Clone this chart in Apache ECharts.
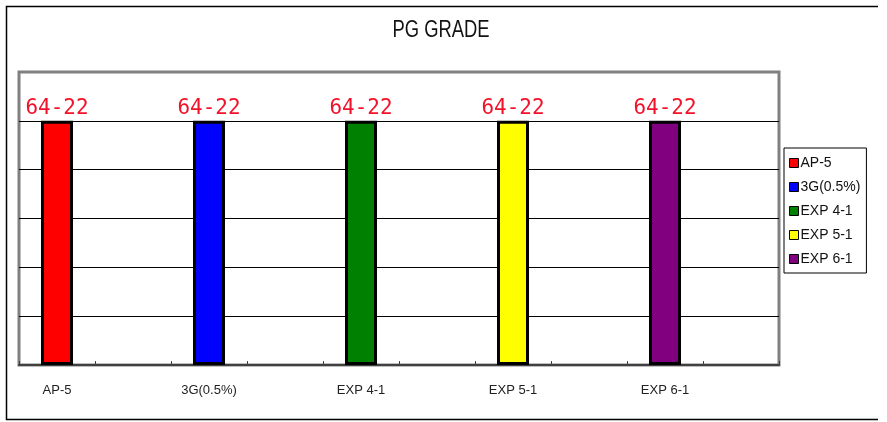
<!DOCTYPE html>
<html>
<head>
<meta charset="utf-8">
<style>html,body{margin:0;padding:0;background:#fff}#c{width:887px;height:422px}</style>
<script src="https://cdn.jsdelivr.net/npm/echarts@6/dist/echarts.min.js"></script>
</head>
<body>
<div id="c"></div>
<script>
const titleText = 'PG GRADE';
const categories = ['AP-5', '', '3G(0.5%)', '', 'EXP 4-1', '', 'EXP 5-1', '', 'EXP 6-1', ''];
const seriesNames = ['AP-5', '3G(0.5%)', 'EXP 4-1', 'EXP 5-1', 'EXP 6-1'];
const seriesColors = ['#ff0000', '#0000ff', '#008000', '#ffff00', '#800080'];
const seriesCategoryIndex = [0, 2, 4, 6, 8];
const seriesValues = [5, 5, 5, 5, 5];
const seriesLabels = ['64-22', '64-22', '64-22', '64-22', '64-22'];

const chart = echarts.init(document.getElementById('c'));
const series = seriesNames.map((name, i) => {
  const data = categories.map(() => '-');
  data[seriesCategoryIndex[i]] = seriesValues[i];
  return {
    name: name,
    type: 'bar',
    stack: 'all',
    barWidth: 32,
    data: data,
    itemStyle: { color: seriesColors[i], borderColor: '#000', borderWidth: 3 },
    label: {
      show: true, position: 'top', distance: 2,
      formatter: () => seriesLabels[i],
      color: '#f2122a', fontSize: 21, fontFamily: 'DejaVu Sans Mono'
    },
    animation: false
  };
});
chart.setOption({
  animation: false,
  backgroundColor: '#fff',
  graphic: [{
    type: 'polyline', silent: true,
    shape: { points: [[878, 6.5], [6.5, 6.5], [6.5, 419.5], [878, 419.5]] },
    style: { stroke: '#000', lineWidth: 1.5, fill: null }
  }, {
    type: 'text', silent: true, x: 441, y: 31, scaleX: 0.8, originX: 0, originY: 0,
    style: {
      text: titleText, fontSize: 23, fontFamily: 'Liberation Sans', fill: '#111',
      align: 'center', verticalAlign: 'middle'
    }
  }],
  grid: { left: 19, top: 72, right: 108, bottom: 57, show: true, borderColor: '#808080', borderWidth: 3, backgroundColor: 'transparent' },
  legend: {
    orient: 'vertical', left: 784, top: 148, width: 83,
    padding: [8, 6, 7, 5], itemGap: 10, itemWidth: 9, itemHeight: 9,
    icon: 'rect', borderColor: '#000', borderWidth: 1, backgroundColor: '#fff',
    itemStyle: { borderColor: '#000', borderWidth: 1 },
    textStyle: { fontSize: 14, color: '#111', padding: [0, 0, 0, -3], lineHeight: 14 },
    data: seriesNames
  },
  xAxis: {
    type: 'category', data: categories,
    axisLine: { lineStyle: { color: '#404040', width: 2 } },
    axisTick: { show: true, inside: true, length: 4, interval: 0, lineStyle: { color: '#404040' } },
    axisLabel: { interval: 0, margin: 19, fontSize: 13, color: '#222' }
  },
  yAxis: {
    type: 'value', min: 0, max: 6, interval: 1,
    axisLine: { show: false }, axisTick: { show: false }, axisLabel: { show: false },
    splitLine: { lineStyle: { color: ['#404040', '#000', '#000', '#000', '#000', '#000', '#808080'], width: 1 } }
  },
  series: series
});
</script>
</body>
</html>
